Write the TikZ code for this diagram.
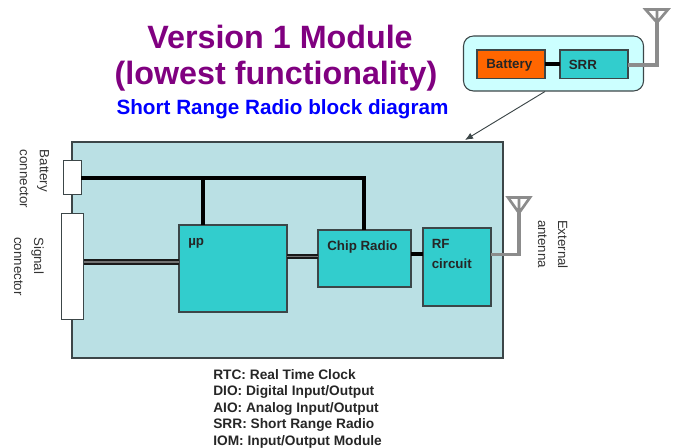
\documentclass[tikz,border=0pt]{standalone}
\usepackage{fontspec}
\setmainfont{Liberation Sans}
\usetikzlibrary{arrows.meta}
\definecolor{panel}{RGB}{186,224,228}
\definecolor{teal}{RGB}{50,205,205}
\definecolor{pale}{RGB}{204,255,255}
\definecolor{orng}{RGB}{255,102,0}
\definecolor{purp}{RGB}{128,0,128}
\definecolor{antgray}{RGB}{140,140,140}
\definecolor{edgec}{RGB}{60,70,72}
\tikzset{
 x=0.75pt,y=-0.75pt,
 blockbox/.style={draw=edgec,line width=0.8pt,fill=teal,minimum width=0pt,anchor=north west,inner sep=0pt,outer sep=0pt},
 portbox/.style={draw=edgec,line width=0.7pt,fill=white,anchor=north west,inner sep=0pt,outer sep=0pt},
 blocklabel/.style={font=\bfseries\fontsize{10}{13}\selectfont,anchor=north west,align=left,inner sep=0pt,text=black!85},
 sidelabel/.style={font=\fontsize{10}{15}\selectfont,rotate=-90,align=left,inner sep=0pt,text=black!80},
 power/.style={line width=3pt,black},
 bus/.style={line width=1.3pt,black!90,double=black!55,double distance=1.3pt},
 rfline/.style={line width=2.4pt,antgray,line cap=butt},
 ant/.style={line width=2pt,antgray,line join=miter},
}
\newcommand{\boxat}[6][blockbox]{\node[#1,minimum width=#5*0.75pt,minimum height=#6*0.75pt] (#2) at (#3,#4) {};}
\begin{document}
\begin{tikzpicture}
\useasboundingbox (0,0) rectangle (673,448);
% titles
\node[font=\bfseries\fontsize{24.2}{24}\selectfont,text=purp] (t1) at (280,37) {Version 1 Module};
\node[font=\bfseries\fontsize{24.2}{24}\selectfont,text=purp] (t2) at (276,76) {(lowest functionality)};
\node[font=\bfseries\fontsize{15.5}{16}\selectfont,text=blue] (t3) at (282.5,109) {Short Range Radio block diagram};
% main panel
\boxat[draw=edgec,line width=0.8pt,fill=panel,anchor=north west,inner sep=0pt,outer sep=0pt]{main}{72}{142}{431}{216}
\boxat[portbox]{batc}{63.5}{160}{17.5}{34}
\boxat[portbox]{sigc}{61}{213}{22.5}{106}
\boxat{up}{179}{225}{108}{87}
\boxat{chip}{318}{230}{93}{57}
\boxat{rf}{423}{228}{68}{78}
\node[blocklabel] (upl) at (188,238) {µp};
\node[blocklabel] (chipl) at (327,241) {Chip Radio};
\node[blocklabel,font=\bfseries\fontsize{10}{15}\selectfont] (rfl) at (431.5,239) {RF\\circuit};
% power
\coordinate (j1) at (203,178.5);
\coordinate (j2) at (364,178.5);
\draw[power] (batc.east |- j1) -- (j1) -- (j2) -- (chip.north -| j2);
\draw[power] (j1) -- (up.north -| j1);
\draw[power] (chip.east |- 0,254.5) -- (rf.west |- 0,254.5);
% buses
\draw[bus] (sigc.east |- 0,262) -- (up.west |- 0,262);
\draw[bus] (up.east |- 0,256.5) -- (chip.west |- 0,256.5);
% external antenna
\coordinate (a2) at (519,254.5);
\coordinate (a2t) at (519,197.5);
\coordinate (a2m) at (519,213);
\draw[rfline] (rf.east |- a2) -- (a2) -- (a2m);
\draw[ant] (508,197.5) -- (530,197.5) -- (a2m) -- cycle (a2t) -- (a2m);
\node[sidelabel] (sl1) at (34.5,179) {Battery\\connector};
\node[sidelabel] (sl2) at (29,266.5) {Signal\\connector};
\node[sidelabel] (sl3) at (553,244.5) {External\\antenna};
% inset
\node[draw=edgec,line width=0.8pt,fill=pale,rounded corners=7.5pt,anchor=north west,inner sep=0pt,outer sep=0pt,minimum width=180*0.75pt,minimum height=55*0.75pt] (inset) at (463.5,36) {};
\boxat[blockbox,fill=orng]{bat}{477}{50}{68}{28.5}
\boxat{srr}{560}{50}{68}{28.5}
\node[blocklabel,anchor=west] (batl) at (486,65.5) {Battery};
\node[blocklabel,anchor=west] (srrl) at (568.5,64.5) {SRR};
\draw[power] (bat) -- (srr);
\coordinate (a1) at (657,65);
\coordinate (a1t) at (657,9.5);
\coordinate (a1m) at (657,22.5);
\draw[rfline] (srr.east |- a1) -- (a1) -- (a1m);
\draw[ant] (645.5,9.5) -- (668,9.5) -- (a1m) -- cycle (a1t) -- (a1m);
\coordinate (ins) at (545,91.5);
\draw[line width=0.7pt,edgec,-{Latex[length=6pt,width=5pt]}] (ins) -- (465,140);
% legend
\node[font=\bfseries\fontsize{10.3}{12.4}\selectfont,anchor=north west,align=left,inner sep=0pt,text=black!85] (leg) at (213,369) {RTC: Real Time Clock\\DIO: Digital Input/Output\\AIO: Analog Input/Output\\SRR: Short Range Radio\\IOM: Input/Output Module};
\end{tikzpicture}
\end{document}
